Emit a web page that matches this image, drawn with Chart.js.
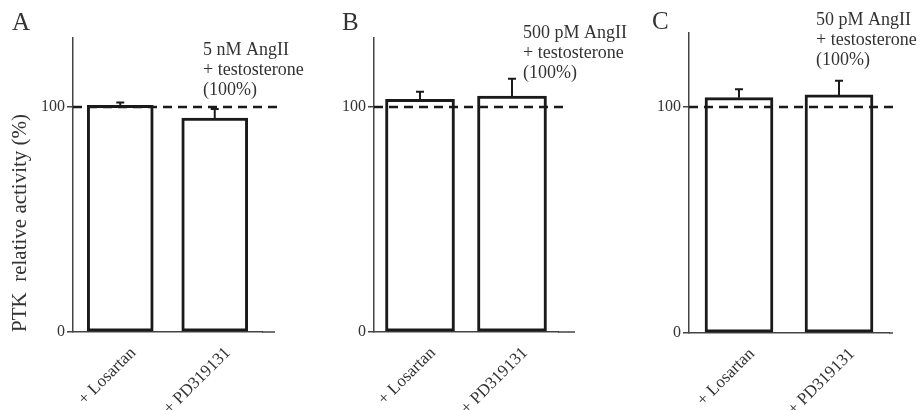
<!DOCTYPE html>
<html>
<head>
<meta charset="utf-8">
<script src="https://cdn.jsdelivr.net/npm/chart.js@4"></script>
<style>
body { margin: 0; background: #fff; }
#wrap { position: relative; width: 920px; height: 410px; }
canvas { position: absolute; left: 0; top: 0; }
</style>
</head>
<body>
<div id="wrap">
  <canvas id="chartA" width="920" height="410"></canvas>
  <canvas id="chartB" width="920" height="410"></canvas>
  <canvas id="chartC" width="920" height="410"></canvas>
</div>
<script>
// Data
const categories = ["+ Losartan", "+ PD319131"];
const valuesA = [100.8, 95.1];
const errorsA = [1.2, 4.0];
const valuesB = [103.4, 104.9];
const errorsB = [3.4, 7.7];
const valuesC = [104.1, 105.3];
const errorsC = [3.7, 6.3];
const yTicks = [0, 100];
const refLevel = 100;
const notesA = ["5 nM AngII", "+ testosterone", "(100%)"];
const notesB = ["500 pM AngII", "+ testosterone", "(100%)"];
const notesC = ["50 pM AngII", "+ testosterone", "(100%)"];
const yTitle = "PTK  relative activity (%)";

const serif = "'Liberation Serif', 'Times New Roman', serif";
const ink = "#1a1a1a";
const textInk = "#333";
const axisInk = "#444";

// dashed 100% line, error bars, axis run-out, panel letter and note
const decor = {
  id: "decor",
  afterDatasetsDraw(chart, args, o) {
    const ctx = chart.ctx;
    const y = chart.scales.y;
    const area = chart.chartArea;
    ctx.save();

    // x axis runs a little past the plot area
    ctx.strokeStyle = axisInk;
    ctx.lineWidth = 1.5;
    ctx.beginPath();
    ctx.moveTo(area.right, area.bottom);
    ctx.lineTo(area.right + o.axisExtra, area.bottom);
    ctx.stroke();

    const yRef = y.getPixelForValue(refLevel);
    ctx.strokeStyle = ink;
    ctx.lineWidth = 2.5;
    ctx.setLineDash([9, 6]);
    ctx.beginPath();
    ctx.moveTo(area.left, yRef);
    ctx.lineTo(area.right + o.dashExtra, yRef);
    ctx.stroke();
    ctx.setLineDash([]);

    const meta = chart.getDatasetMeta(0);
    ctx.lineWidth = 2;
    o.errors.forEach((e, i) => {
      const v = o.values[i];
      const px = meta.data[i].x;
      const y0 = y.getPixelForValue(v);
      const y1 = y.getPixelForValue(v + e);
      ctx.beginPath();
      ctx.moveTo(px, y0);
      ctx.lineTo(px, y1);
      ctx.moveTo(px - 4, y1);
      ctx.lineTo(px + 4, y1);
      ctx.stroke();
    });

    ctx.fillStyle = textInk;
    ctx.textAlign = "left";
    ctx.textBaseline = "alphabetic";
    ctx.font = "25px " + serif;
    ctx.fillText(o.letter, o.letterX, o.letterY);
    ctx.font = "18px " + serif;
    o.notes.forEach((t, i) => ctx.fillText(t, o.noteX, o.noteY + i * 20));
    ctx.restore();
  }
};

function makePanel(id, values, errors, p) {
  return new Chart(document.getElementById(id), {
    type: "bar",
    data: {
      labels: categories,
      datasets: [{
        data: values,
        backgroundColor: "#fff",
        borderColor: ink,
        borderWidth: 3,
        borderSkipped: false,
        barThickness: p.barWidth
      }]
    },
    options: {
      responsive: false,
      animation: false,
      layout: { padding: p.padding },
      plugins: {
        legend: { display: false },
        tooltip: { enabled: false },
        decor: {
          values: values, errors: errors, notes: p.notes,
          letter: p.letter, letterX: p.letterX, letterY: p.letterY,
          noteX: p.noteX, noteY: p.noteY,
          dashExtra: p.dashExtra, axisExtra: p.axisExtra
        }
      },
      scales: {
        x: {
          grid: { display: false },
          border: { display: true, color: axisInk, width: 1.5 },
          afterFit: s => { s.height = p.xHeight; },
          ticks: {
            autoSkip: false,
            minRotation: 45,
            maxRotation: 45,
            labelOffset: 13,
            color: textInk,
            font: { family: serif, size: 17 }
          }
        },
        y: {
          min: 0,
          max: p.yMax,
          afterBuildTicks: s => { s.ticks = yTicks.map(v => ({ value: v })); },
          afterFit: s => { s.width = p.yWidth; },
          grid: { drawOnChartArea: false, drawTicks: true, tickLength: 6, tickColor: axisInk, lineWidth: 1.5 },
          border: { display: true, color: axisInk, width: 1.5 },
          ticks: { color: textInk, padding: 2, font: { family: serif, size: 16 } },
          title: {
            display: p.showTitle,
            text: yTitle,
            align: "start",
            color: textInk,
            font: { family: serif, size: 21 },
            padding: { top: 8, bottom: 0 }
          }
        }
      }
    },
    plugins: [decor]
  });
}

makePanel("chartA", valuesA, errorsA, {
  padding: { left: 0, top: 38, right: 658, bottom: 0 },
  yWidth: 73, xHeight: 78, yMax: 130.7,
  barWidth: 66, showTitle: true, dashExtra: 20, axisExtra: 13,
  letter: "A", letterX: 12, letterY: 30,
  notes: notesA, noteX: 203, noteY: 55
});
makePanel("chartB", valuesB, errorsB, {
  padding: { left: 334, top: 38, right: 362, bottom: 0 },
  yWidth: 40, xHeight: 78, yMax: 130.7,
  barWidth: 69, showTitle: false, dashExtra: 10, axisExtra: 17,
  letter: "B", letterX: 342, letterY: 30,
  notes: notesB, noteX: 523, noteY: 38
});
makePanel("chartC", valuesC, errorsC, {
  padding: { left: 649, top: 33, right: 31, bottom: 0 },
  yWidth: 40, xHeight: 77, yMax: 132.7,
  barWidth: 68, showTitle: false, dashExtra: 6, axisExtra: 4,
  letter: "C", letterX: 652, letterY: 29,
  notes: notesC, noteX: 816, noteY: 25
});
</script>
</body>
</html>
